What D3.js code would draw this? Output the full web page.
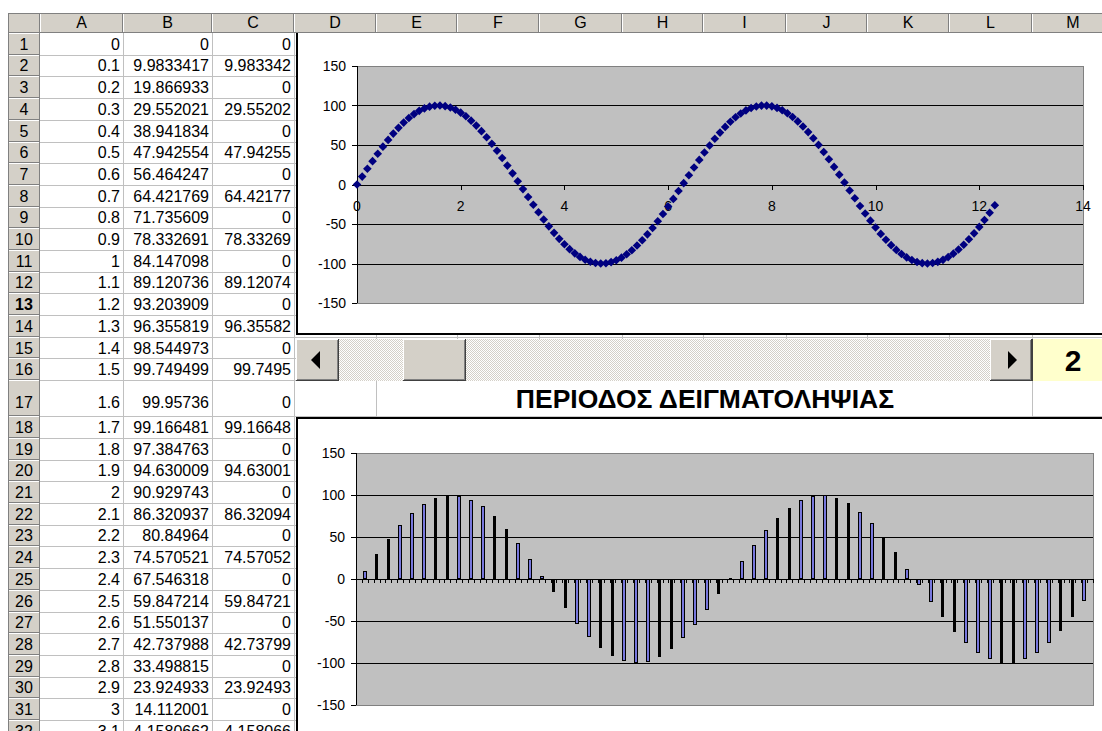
<!DOCTYPE html>
<html><head><meta charset="utf-8">
<script src="https://cdn.jsdelivr.net/npm/d3@7/dist/d3.min.js"></script>
<style>
html,body{margin:0;padding:0;background:#fff;}
svg{display:block;}
text{font-family:"Liberation Sans",Arial,sans-serif;}
</style></head><body>
<svg id="chart" width="1102" height="731"></svg>
<script>
// ---------------- data ----------------
const columnLetters = ["A","B","C","D","E","F","G","H","I","J","K","L","M"];
const rowNumbers = [1,2,3,4,5,6,7,8,9,10,11,12,13,14,15,16,17,18,19,20,21,22,23,24,25,26,27,28,29,30,31,32];
const colAText = ["0","0.1","0.2","0.3","0.4","0.5","0.6","0.7","0.8","0.9","1","1.1","1.2","1.3","1.4","1.5","1.6","1.7","1.8","1.9","2","2.1","2.2","2.3","2.4","2.5","2.6","2.7","2.8","2.9","3","3.1"];
const colBText = ["0","9.9833417","19.866933","29.552021","38.941834","47.942554","56.464247","64.421769","71.735609","78.332691","84.147098","89.120736","93.203909","96.355819","98.544973","99.749499","99.95736","99.166481","97.384763","94.630009","90.929743","86.320937","80.84964","74.570521","67.546318","59.847214","51.550137","42.737988","33.498815","23.924933","14.112001","4.1580662"];
const colCText = ["0","9.983342","0","29.55202","0","47.94255","0","64.42177","0","78.33269","0","89.12074","0","96.35582","0","99.7495","0","99.16648","0","94.63001","0","86.32094","0","74.57052","0","59.84721","0","42.73799","0","23.92493","0","4.158066"];

const timeValues = [0,0.1,0.2,0.3,0.4,0.5,0.6,0.7,0.8,0.9,
1,1.1,1.2,1.3,1.4,1.5,1.6,1.7,1.8,1.9,
2,2.1,2.2,2.3,2.4,2.5,2.6,2.7,2.8,2.9,
3,3.1,3.2,3.3,3.4,3.5,3.6,3.7,3.8,3.9,
4,4.1,4.2,4.3,4.4,4.5,4.6,4.7,4.8,4.9,
5,5.1,5.2,5.3,5.4,5.5,5.6,5.7,5.8,5.9,
6,6.1,6.2,6.3,6.4,6.5,6.6,6.7,6.8,6.9,
7,7.1,7.2,7.3,7.4,7.5,7.6,7.7,7.8,7.9,
8,8.1,8.2,8.3,8.4,8.5,8.6,8.7,8.8,8.9,
9,9.1,9.2,9.3,9.4,9.5,9.6,9.7,9.8,9.9,
10,10.1,10.2,10.3,10.4,10.5,10.6,10.7,10.8,10.9,
11,11.1,11.2,11.3,11.4,11.5,11.6,11.7,11.8,11.9,
12,12.1,12.2,12.3];
const sineValues = [0,9.98,19.87,29.55,38.94,47.94,56.46,64.42,71.74,78.33,
84.15,89.12,93.2,96.36,98.54,99.75,99.96,99.17,97.38,94.63,
90.93,86.32,80.85,74.57,67.55,59.85,51.55,42.74,33.5,23.92,
14.11,4.16,-5.84,-15.78,-25.56,-35.08,-44.25,-52.98,-61.19,-68.78,
-75.68,-81.83,-87.16,-91.62,-95.16,-97.75,-99.37,-99.99,-99.62,-98.25,
-95.89,-92.58,-88.35,-83.23,-77.28,-70.55,-63.13,-55.07,-46.46,-37.39,
-27.94,-18.22,-8.31,1.68,11.66,21.51,31.15,40.49,49.41,57.84,
65.7,72.9,79.37,85.04,89.87,93.8,96.79,98.82,99.85,99.89,
98.94,96.99,94.07,90.22,85.46,79.85,73.44,66.3,58.49,50.1,
41.21,31.91,22.29,12.45,2.48,-7.52,-17.43,-27.18,-36.65,-45.75,
-54.4,-62.51,-69.99,-76.77,-82.78,-87.97,-92.28,-95.66,-98.09,-99.55,
-100,-99.46,-97.92,-95.4,-91.93,-87.54,-82.28,-76.2,-69.35,-61.81,
-53.66,-44.96,-35.82,-26.32];
const sampledValues = [0,9.98,0,29.55,0,47.94,0,64.42,0,78.33,
0,89.12,0,96.36,0,99.75,0,99.17,0,94.63,
0,86.32,0,74.57,0,59.85,0,42.74,0,23.92,
0,4.16,0,-15.78,0,-35.08,0,-52.98,0,-68.78,
0,-81.83,0,-91.62,0,-97.75,0,-99.99,0,-98.25,
0,-92.58,0,-83.23,0,-70.55,0,-55.07,0,-37.39,
0,-18.22,0,1.68,0,21.51,0,40.49,0,57.84,
0,72.9,0,85.04,0,93.8,0,98.82,0,99.89,
0,96.99,0,90.22,0,79.85,0,66.3,0,50.1,
0,31.91,0,12.45,0,-7.52,0,-27.18,0,-45.75,
0,-62.51,0,-76.77,0,-87.97,0,-95.66,0,-99.55,
0,-99.46,0,-95.4,0,-87.54,0,-76.2,0,-61.81,
0,-44.96,0,-26.32,0];
const yTickValues = [-150,-100,-50,0,50,100,150];
const yGridValues = [-100,-50,50,100];
const xTickValues = [0,2,4,6,8,10,12,14];
const sliderValue = "2";
const titleText = "ΠΕΡΙΟΔΟΣ ΔΕΙΓΜΑΤΟΛΗΨΙΑΣ";
const selectedRow = 13;

// ---------------- layout / style ----------------
const W = 1102, H = 731;
const GRID = "#c0c0c0", FACE = "#d4d0c8", SHADOW = "#808080", DARK = "#404040";
const NAVY = "#000080", BAR_BLUE = "#7777dd", PLOT_BG = "#c0c0c0";
const hdrTop = 13, hdrBot = 33, rhLeft = 8, rhRight = 40;
const colEdges = [40,123,212,294,376,457,539,622,703,786,867,949,1032,1114];
const rowEdges = [hdrBot];
for (let r = 1; r <= 33; r++) rowEdges.push(rowEdges[r-1] + (r === 17 ? 36 : 21.7));
const px = v => Math.round(v) + 0.5;

const svg = d3.select("#chart");
svg.append("rect").attr("width", W).attr("height", H).attr("fill", "#fff");

// ---------- sheet gridlines ----------
const grid = svg.append("g").attr("shape-rendering", "crispEdges").attr("stroke", GRID);
colEdges.slice(1).forEach(x => grid.append("line").attr("x1", px(x)).attr("x2", px(x)).attr("y1", hdrBot).attr("y2", H));
rowEdges.slice(1).forEach(y => grid.append("line").attr("x1", rhRight).attr("x2", W).attr("y1", px(y)).attr("y2", px(y)));

// ---------- cell text ----------
const cells = svg.append("g").attr("font-size", 16).attr("text-anchor", "end").attr("fill", "#000");
[colAText, colBText, colCText].forEach((col, ci) => {
  cells.selectAll(null).data(col).join("text")
    .attr("x", colEdges[ci+1] - 3)
    .attr("y", (d, i) => rowEdges[i+1] - (i === 16 ? 8 : 5))
    .text(d => d);
});

// ---------- bevel helper ----------
function bevel(g, x, y, w, h, fill) {
  const b = g.append("g").attr("shape-rendering", "crispEdges");
  b.append("rect").attr("x", x).attr("y", y).attr("width", w).attr("height", h).attr("fill", fill || FACE);
  b.append("path").attr("d", `M${x+0.5},${y+h-1}V${y+0.5}H${x+w-1}`).attr("stroke", "#fff").attr("fill", "none");
  b.append("path").attr("d", `M${x},${y+h-0.5}H${x+w-0.5}V${y}`).attr("stroke", DARK).attr("fill", "none");
  b.append("path").attr("d", `M${x+1},${y+h-1.5}H${x+w-1.5}V${y+1}`).attr("stroke", SHADOW).attr("fill", "none");
  return b;
}

// ---------- top chart (XY scatter) ----------
const topChart = svg.append("g");
topChart.append("rect").attr("x", 297).attr("y", 32).attr("width", 900).attr("height", 302)
  .attr("fill", "#fff").attr("stroke", "#000").attr("stroke-width", 2);
const x1 = d3.scaleLinear().domain([0, 14]).range([357, 1083]);
const y1 = d3.scaleLinear().domain([-150, 150]).range([303, 66]);
const tg = topChart.append("g").attr("shape-rendering", "crispEdges");
tg.append("rect").attr("x", x1(0)).attr("y", y1(150)).attr("width", x1(14) - x1(0)).attr("height", y1(-150) - y1(150))
  .attr("fill", PLOT_BG).attr("stroke", SHADOW);
tg.selectAll(null).data(yGridValues).join("line")
  .attr("x1", x1(0)).attr("x2", x1(14)).attr("y1", d => px(y1(d))).attr("y2", d => px(y1(d))).attr("stroke", "#000");
tg.append("line").attr("x1", px(x1(0))).attr("x2", px(x1(0))).attr("y1", y1(150)).attr("y2", y1(-150)).attr("stroke", "#000");
tg.selectAll(null).data(yTickValues).join("line")
  .attr("x1", x1(0) - 5).attr("x2", x1(0)).attr("y1", d => px(y1(d))).attr("y2", d => px(y1(d))).attr("stroke", "#000");
topChart.selectAll(null).data(yTickValues).join("text")
  .attr("x", x1(0) - 11).attr("y", d => y1(d) + 5).attr("text-anchor", "end").attr("font-size", 14).text(d => d);
tg.append("line").attr("x1", x1(0)).attr("x2", x1(14)).attr("y1", px(y1(0))).attr("y2", px(y1(0))).attr("stroke", "#000");
tg.selectAll(null).data(xTickValues).join("line")
  .attr("x1", d => px(x1(d))).attr("x2", d => px(x1(d))).attr("y1", y1(0)).attr("y2", y1(0) + 5).attr("stroke", "#000");
topChart.selectAll(null).data(xTickValues).join("text")
  .attr("x", d => x1(d)).attr("y", y1(0) + 26).attr("text-anchor", "middle").attr("font-size", 14).text(d => d);
const mr = 4.3;
topChart.append("g").selectAll("path").data(timeValues).join("path")
  .attr("d", (t, i) => { const cx = x1(t), cy = y1(sineValues[i]); return `M${cx},${cy-mr}L${cx+mr},${cy}L${cx},${cy+mr}L${cx-mr},${cy}Z`; })
  .attr("fill", NAVY);

// ---------- scrollbar + value box ----------
const sb = svg.append("g");
const defs = svg.append("defs");
const pat = defs.append("pattern").attr("id", "dither").attr("width", 2).attr("height", 2).attr("patternUnits", "userSpaceOnUse");
pat.append("rect").attr("width", 2).attr("height", 2).attr("fill", "#fff");
pat.append("rect").attr("width", 1).attr("height", 1).attr("fill", FACE);
pat.append("rect").attr("x", 1).attr("y", 1).attr("width", 1).attr("height", 1).attr("fill", FACE);
const sbTop = 339, sbH = 42;
sb.append("rect").attr("x", 296).attr("y", sbTop).attr("width", 736).attr("height", sbH).attr("fill", "url(#dither)");
bevel(sb, 296, sbTop, 43, sbH);
bevel(sb, 403, sbTop, 63, sbH);
bevel(sb, 990, sbTop, 42, sbH);
const scy = sbTop + sbH / 2;
sb.append("path").attr("d", `M311,${scy}L320,${scy-9}L320,${scy+9}Z`).attr("fill", "#000");
sb.append("path").attr("d", `M1017,${scy}L1008,${scy-9}L1008,${scy+9}Z`).attr("fill", "#000");
sb.append("rect").attr("x", 1032).attr("y", sbTop).attr("width", 80).attr("height", sbH).attr("fill", "#ffffcc").attr("shape-rendering", "crispEdges");
sb.append("line").attr("x1", 1032.5).attr("x2", 1032.5).attr("y1", sbTop).attr("y2", sbTop + sbH).attr("stroke", DARK);
sb.append("text").attr("x", 1073).attr("y", scy + 11).attr("text-anchor", "middle").attr("font-size", 30).attr("font-weight", "bold").text(sliderValue);

// ---------- title (merged E17:L17) ----------
svg.append("rect").attr("x", colEdges[4] + 1).attr("y", rowEdges[16] + 1).attr("width", colEdges[12] - colEdges[4] - 1).attr("height", rowEdges[17] - rowEdges[16] - 1).attr("fill", "#fff");
svg.append("text").attr("x", (colEdges[4] + colEdges[12]) / 2 + 1).attr("y", rowEdges[17] - 8).attr("text-anchor", "middle")
  .attr("font-size", 26.5).attr("font-weight", "bold").text(titleText);

// ---------- bottom chart (columns) ----------
const bot = svg.append("g");
bot.append("rect").attr("x", 297).attr("y", 418).attr("width", 900).attr("height", 400)
  .attr("fill", "#fff").attr("stroke", "#000").attr("stroke-width", 2);
const x2 = d3.scaleBand().domain(sampledValues.map((d, i) => i)).range([356, 1093]).paddingInner(0.39).paddingOuter(0.195);
const y2 = d3.scaleLinear().domain([-150, 150]).range([705, 453]);
const bg = bot.append("g").attr("shape-rendering", "crispEdges");
bg.append("rect").attr("x", 356).attr("y", y2(150)).attr("width", 1093 - 356).attr("height", y2(-150) - y2(150))
  .attr("fill", PLOT_BG).attr("stroke", SHADOW);
bg.selectAll(null).data(yGridValues).join("line")
  .attr("x1", 356).attr("x2", 1093).attr("y1", d => px(y2(d))).attr("y2", d => px(y2(d))).attr("stroke", "#000");
bg.append("line").attr("x1", 356.5).attr("x2", 356.5).attr("y1", y2(150)).attr("y2", y2(-150)).attr("stroke", "#000");
bg.selectAll(null).data(yTickValues).join("line")
  .attr("x1", 351).attr("x2", 356).attr("y1", d => px(y2(d))).attr("y2", d => px(y2(d))).attr("stroke", "#000");
bot.selectAll(null).data(yTickValues).join("text")
  .attr("x", 345).attr("y", d => y2(d) + 5).attr("text-anchor", "end").attr("font-size", 14).text(d => d);
const bw = x2.bandwidth();
const barData = sampledValues.map((v, i) => ({ v, i })).filter(d => d.v !== 0).map(d => {
  const xa = Math.round(x2(d.i)), xb = Math.round(x2(d.i) + bw);
  const ya = Math.round(y2(Math.max(d.v, 0))), yb = Math.round(y2(Math.min(d.v, 0)));
  return { xa, w: Math.max(2, xb - xa), ya, h: Math.max(1, yb - ya) };
});
bg.selectAll("rect.bo").data(barData).join("rect").attr("class", "bo")
  .attr("x", d => d.xa).attr("y", d => d.ya).attr("width", d => d.w).attr("height", d => d.h).attr("fill", "#000");
bg.selectAll("rect.bi").data(barData.filter(d => d.w >= 4 && d.h > 2)).join("rect").attr("class", "bi")
  .attr("x", d => d.xa + 1).attr("y", d => d.ya + 1).attr("width", d => d.w - 2).attr("height", d => d.h - 2).attr("fill", BAR_BLUE);
bg.append("line").attr("x1", 356).attr("x2", 1093).attr("y1", px(y2(0))).attr("y2", px(y2(0))).attr("stroke", "#000");
const boundaries = sampledValues.map((d, i) => x2(i) - x2.step() * x2.paddingInner() / 2).concat([1093]);
bg.selectAll("line.ct").data(boundaries).join("line").attr("class", "ct")
  .attr("x1", d => px(d)).attr("x2", d => px(d)).attr("y1", y2(0)).attr("y2", y2(0) + 4).attr("stroke", "#000");

// ---------- headers (drawn last) ----------
const hdr = svg.append("g").attr("shape-rendering", "crispEdges");
function hcell(x, y, w, h) {
  hdr.append("rect").attr("x", x).attr("y", y).attr("width", w).attr("height", h).attr("fill", FACE);
  hdr.append("line").attr("x1", x + 0.5).attr("x2", x + 0.5).attr("y1", y).attr("y2", y + h).attr("stroke", "#fff");
  hdr.append("line").attr("x1", x).attr("x2", x + w).attr("y1", y + 0.5).attr("y2", y + 0.5).attr("stroke", "#fff");
  hdr.append("line").attr("x1", x + w - 0.5).attr("x2", x + w - 0.5).attr("y1", y).attr("y2", y + h).attr("stroke", SHADOW);
  hdr.append("line").attr("x1", x).attr("x2", x + w).attr("y1", y + h - 0.5).attr("y2", y + h - 0.5).attr("stroke", SHADOW);
}
hcell(rhLeft, hdrTop, rhRight - rhLeft, hdrBot - hdrTop);
columnLetters.forEach((L, i) => hcell(colEdges[i], hdrTop, colEdges[i+1] - colEdges[i], hdrBot - hdrTop));
rowNumbers.forEach((n, i) => hcell(rhLeft, Math.round(rowEdges[i]), rhRight - rhLeft, Math.round(rowEdges[i+1]) - Math.round(rowEdges[i])));
hdr.append("line").attr("x1", rhLeft).attr("x2", W).attr("y1", hdrTop + 0.5).attr("y2", hdrTop + 0.5).attr("stroke", SHADOW);
hdr.append("line").attr("x1", rhLeft + 0.5).attr("x2", rhLeft + 0.5).attr("y1", hdrTop).attr("y2", H).attr("stroke", SHADOW);
const ht = svg.append("g").attr("font-size", 16).attr("text-anchor", "middle").attr("fill", "#000");
ht.selectAll(null).data(columnLetters).join("text")
  .attr("x", (d, i) => (colEdges[i] + colEdges[i+1]) / 2).attr("y", hdrBot - 5).text(d => d);
ht.selectAll(null).data(rowNumbers).join("text")
  .attr("x", (rhLeft + rhRight) / 2).attr("y", (d, i) => rowEdges[i+1] - (i === 16 ? 8 : 5))
  .attr("font-weight", d => d === selectedRow ? "bold" : null).text(d => d);
</script>
</body></html>
